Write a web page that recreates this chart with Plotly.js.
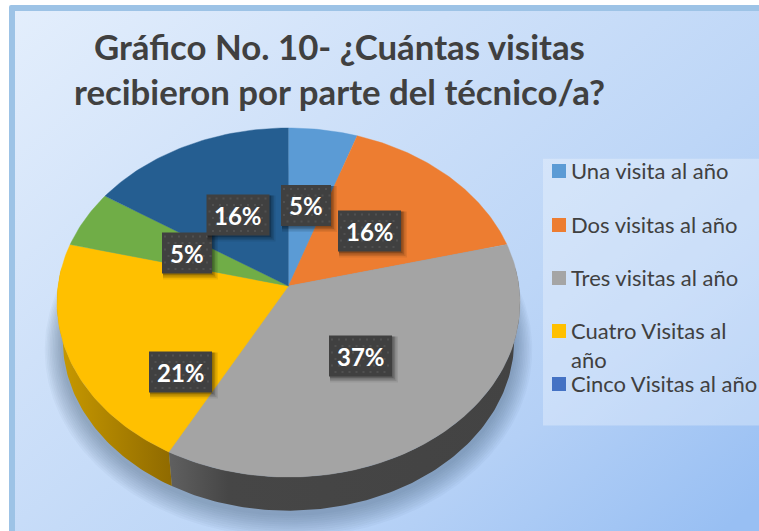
<!DOCTYPE html>
<html>
<head>
<meta charset="utf-8">
<script src="https://cdn.plot.ly/plotly-3.0.1.min.js"></script>
<style>
html,body{margin:0;padding:0;background:#fff;width:759px;height:531px;overflow:hidden}
#frame{position:absolute;left:9px;top:5px;width:790px;height:570px;box-sizing:border-box;border:6px solid #9dc3e6;border-radius:2px;
background:linear-gradient(140deg,#e3eefc 0%,#cfe1f9 30%,#bdd6f7 58%,#b4d0f6 70%,#98bff3 92%)}
#chart{position:absolute;left:0;top:0;width:759px;height:531px}
</style>
</head>
<body>
<div id="frame"></div>
<div id="chart"></div>
<script>
// ---- data ----
const titleText = 'Gráfico No. 10- ¿Cuántas visitas<br>recibieron por parte del técnico/a?';
const sliceValues = [1, 3, 7, 4, 1, 3];
const sliceColors = ['#5b9bd5', '#ed7d31', '#a4a4a4', '#ffc000', '#70ad47', '#255e91'];
const legendLabels = ['Una visita al año', 'Dos visitas al año', 'Tres visitas al año', 'Cuatro Visitas al<br>año', 'Cinco Visitas al año'];
const legendColors = ['#5b9bd5', '#ed7d31', '#a5a5a5', '#ffc000', '#4472c4'];

// ---- layout constants (pixels) ----
const legendSwatchTop = [164, 218, 271, 324, 377];
const labelCenters = [[306, 205.5], [369.5, 231], [360.5, 356], [180.5, 372], [187, 253], [238, 215]];
const W = 759, H = 531;
const CX = 288.5, CY = 286, RX = 230.5, RY = 173, PERSP = 0.0946;
const LOW_CY = 324, LOW_RX = 224.7, LOW_RY = 169;
const FONT = 'Lato, Carlito, Calibri, sans-serif';

function project(theta, cy, rx, ry) {           // theta: degrees clockwise from 12 o'clock
  const a = (90 - theta) * Math.PI / 180;
  const s = 1 / (1 + PERSP * Math.sin(a));
  return [CX + rx * Math.cos(a) * s, cy - ry * Math.sin(a) * s];
}
function arc(t0, t1, cy, rx, ry) {
  const n = Math.max(2, Math.ceil(Math.abs(t1 - t0)));
  const pts = [];
  for (let i = 0; i <= n; i++) pts.push(project(t0 + (t1 - t0) * i / n, cy, rx, ry));
  return pts;
}
function polyTrace(pts, color, lw) {
  return {
    type: 'scatter', mode: 'lines', x: pts.map(p => p[0]), y: pts.map(p => p[1]),
    fill: 'toself', fillcolor: color, line: {color: lw ? color : 'rgba(0,0,0,0)', width: lw || 0},
    hoverinfo: 'skip', showlegend: false
  };
}

const total = sliceValues.reduce((a, b) => a + b, 0);
const edges = [0];
sliceValues.forEach(v => edges.push(edges[edges.length - 1] + v / total * 360));

const traces = [];

// soft shadow under the disc
const SHADOW_LAYERS = 11;
for (let i = SHADOW_LAYERS; i >= 1; i--) {
  const g = i / SHADOW_LAYERS;
  traces.push(polyTrace(arc(0, 360, LOW_CY + 3 + 5 * g, LOW_RX * (1 + 0.08 * g), LOW_RY * (1 + 0.10 * g)), 'rgba(50,72,105,0.04)'));
}

// side wall: one polygon per visible slice, with a horizontal shade
function wall(t0, t1, stops) {
  const tr = polyTrace(arc(t0, t1, CY, RX, RY).concat(arc(t1, t0, LOW_CY, LOW_RX, LOW_RY)), stops[0][1]);
  tr.fillgradient = {type: 'horizontal', colorscale: stops};
  return tr;
}
traces.push(wall(84, edges[3], [[0, '#606060'], [0.17, '#464646'], [1, '#434343']]));
traces.push(wall(edges[3], 276, [[0, '#c99a00'], [1, '#8f6a00']]));

// top face, one slice per value
sliceValues.forEach((v, i) => {
  const pts = [[CX, CY]].concat(arc(edges[i], edges[i + 1], CY, RX, RY));
  traces.push(polyTrace(pts, sliceColors[i], 0.4));
});

// shapes and annotations
const shapes = [];
const annotations = [];

// legend panel
shapes.push({type: 'rect', xref: 'x', yref: 'y', x0: 543, x1: W, y0: 158.7, y1: 425.6, fillcolor: 'rgba(255,255,255,0.3)', line: {width: 0}, layer: 'above'});
legendLabels.forEach((txt, i) => {
  const top = legendSwatchTop[i];
  shapes.push({type: 'rect', xref: 'x', yref: 'y', x0: 552, x1: 566, y0: top, y1: top + 14, fillcolor: legendColors[i], line: {width: 0}, layer: 'above'});
  annotations.push({
    xref: 'x', yref: 'y', x: 571, y: top - 7, xanchor: 'left', yanchor: 'top', align: 'left', showarrow: false,
    text: txt, font: {family: FONT, size: 22, color: '#404040'}, borderpad: 0, borderwidth: 0
  });
});

// percentage labels
sliceValues.forEach((v, i) => {
  const pct = Math.round(v / total * 100);
  const [x, y] = labelCenters[i];
  const w = String(pct).length === 1 ? 50 : 63, h = 41;
  const rect = (x0, y0, x1, y1, fill) => ({type: 'rect', xref: 'x', yref: 'y', x0, y0, x1, y1, fillcolor: fill, line: {width: 0}, layer: 'above'});
  [[6, 0.07], [4.5, 0.10], [3, 0.14], [1.5, 0.18]].forEach(([o, al]) => {
    shapes.push(rect(x - w / 2 + 1, y - h / 2 + 1, x + w / 2 + o, y + h / 2 + o, 'rgba(0,0,0,' + al + ')'));
  });
  shapes.push(rect(x - w / 2, y - h / 2, x + w / 2, y + h / 2, '#404040'));
  // dotted texture of the label box
  let d = '';
  let row = 0;
  for (let py = y - h / 2 + 3; py < y + h / 2 - 1; py += 6.5, row++) {
    for (let px = x - w / 2 + 2 + (row % 2) * 3.5; px < x + w / 2 - 2; px += 7) {
      d += 'M' + px + ',' + py + 'L' + (px + 2) + ',' + py + 'L' + (px + 2) + ',' + (py + 2) + 'L' + px + ',' + (py + 2) + 'Z';
    }
  }
  shapes.push({type: 'path', xref: 'x', yref: 'y', path: d, fillcolor: '#505050', line: {width: 0}, layer: 'above'});
  annotations.push({
    xref: 'x', yref: 'y', x: x, y: y, xanchor: 'center', yanchor: 'middle', showarrow: false,
    text: '<b>' + pct + '%</b>', font: {family: FONT, size: 24, color: '#ffffff'}
  });
});

const layout = {
  width: W, height: H,
  margin: {l: 0, r: 0, t: 0, b: 0},
  paper_bgcolor: 'rgba(0,0,0,0)', plot_bgcolor: 'rgba(0,0,0,0)',
  showlegend: false,
  title: {
    text: '<b>' + titleText.replace('<br>', '</b><br><b>') + '</b>',
    x: 339.5 / W, xanchor: 'center', y: 1 - 60 / H, yanchor: 'top', automargin: false,
    font: {family: FONT, size: 34.8, color: '#404040'}
  },
  xaxis: {range: [0, W], visible: false, fixedrange: true},
  yaxis: {range: [H, 0], visible: false, fixedrange: true},
  shapes: shapes,
  annotations: annotations
};
Plotly.newPlot('chart', traces, layout, {displayModeBar: false, staticPlot: true});
</script>
</body>
</html>
